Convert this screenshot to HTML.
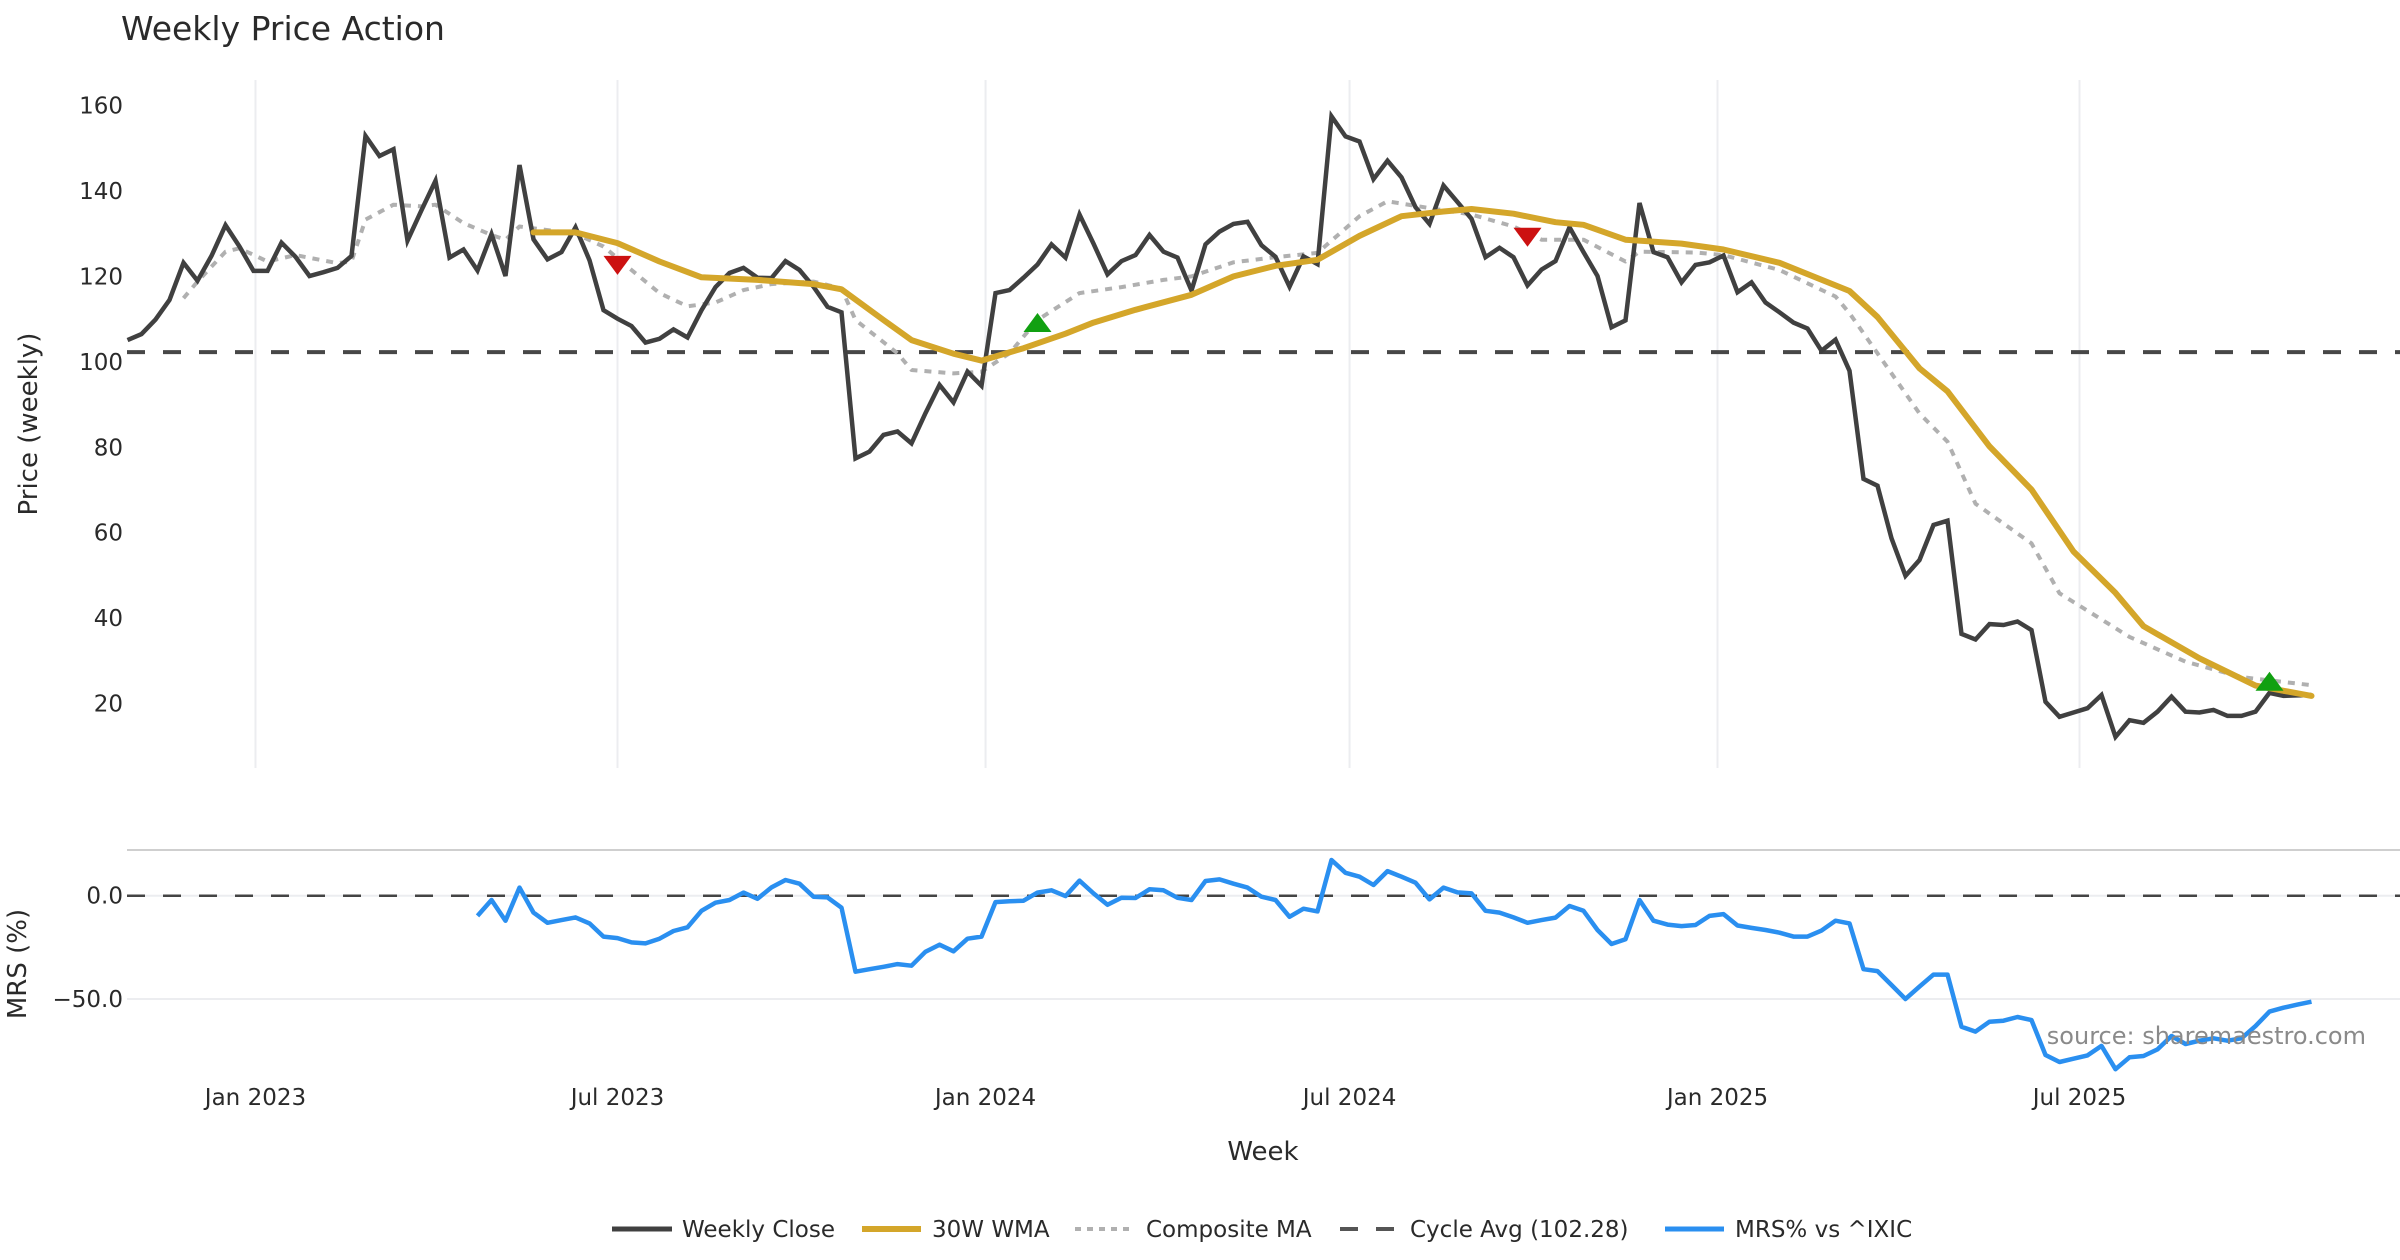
<!DOCTYPE html>
<html><head><meta charset="utf-8"><title>Weekly Price Action</title>
<style>
html,body{margin:0;padding:0;background:#fff;}
svg{display:block;font-family:"DejaVu Sans","Liberation Sans",sans-serif;}
</style></head>
<body>
<svg id="chart" xmlns="http://www.w3.org/2000/svg" width="2400" height="1260" viewBox="0 0 2400 1260">
<rect x="0" y="0" width="2400" height="1260" fill="#fff"/>
<text x="121" y="40" font-size="33" fill="#2a2a2a">Weekly Price Action</text>
<g id="grid"></g>
<g id="lines"></g>
<g id="axes"></g>
<text transform="translate(37,424) rotate(-90)" text-anchor="middle" font-size="26" fill="#2a2a2a">Price (weekly)</text>
<text transform="translate(26,964) rotate(-90)" text-anchor="middle" font-size="26" fill="#2a2a2a">MRS (%)</text>
<text x="1263" y="1160" text-anchor="middle" font-size="26" fill="#2a2a2a">Week</text>
<text x="2366" y="1044" text-anchor="end" font-size="24" fill="#8a8a8a">source: sharemaestro.com</text>
<g>
  <g>
    <line x1="612" y1="1229" x2="672" y2="1229" stroke="#404040" stroke-width="5"/>
    <text x="682" y="1237" font-size="23" fill="#2a2a2a">Weekly Close</text>
  </g>
  <g>
    <line x1="862" y1="1229" x2="921" y2="1229" stroke="#d4a62a" stroke-width="6"/>
    <text x="932" y="1237" font-size="23" fill="#2a2a2a">30W WMA</text>
  </g>
  <g>
    <line x1="1075" y1="1229" x2="1132" y2="1229" stroke="#b0b0b0" stroke-width="4" stroke-dasharray="6 6"/>
    <text x="1146" y="1237" font-size="23" fill="#2a2a2a">Composite MA</text>
  </g>
  <g>
    <line x1="1340" y1="1229" x2="1396" y2="1229" stroke="#555" stroke-width="4" stroke-dasharray="18 18"/>
    <text x="1410" y="1237" font-size="23" fill="#2a2a2a">Cycle Avg (102.28)</text>
  </g>
  <g>
    <line x1="1665" y1="1229" x2="1724" y2="1229" stroke="#2a8ff0" stroke-width="5"/>
    <text x="1735" y="1237" font-size="23" fill="#2a2a2a">MRS% vs ^IXIC</text>
  </g>
</g>
</svg>
<script>
// ---- data ----
const closeVals = [105.1,106.5,109.9,114.5,123.2,119.0,124.8,132.0,127.0,121.3,121.3,127.9,124.6,120.1,121.0,122.0,124.8,152.9,148.2,149.8,128.4,135.5,142.4,124.4,126.3,121.4,129.9,120.1,146.1,128.7,124.0,125.7,131.5,123.8,112.1,110.1,108.4,104.5,105.4,107.6,105.7,112.1,117.5,
120.8,122.0,119.7,119.6,123.6,121.5,117.6,112.9,111.6,77.4,79.0,82.9,83.7,80.9,88.0,94.6,90.5,97.7,94.4,116.1,116.8,119.7,122.8,127.5,124.4,134.5,127.7,120.5,123.6,125.0,129.7,125.8,124.4,116.7,127.5,130.5,132.3,132.8,127.3,124.6,117.6,
124.7,122.9,157.5,152.8,151.6,142.8,147.1,143.2,136.2,132.3,141.3,137.4,133.5,124.5,126.7,124.5,117.9,121.6,123.6,131.5,125.7,120.1,108.1,109.7,137.2,125.7,124.5,118.6,122.7,123.3,124.9,116.3,118.6,113.9,111.6,109.2,107.8,102.6,105.2,97.9,72.6,71.0,
58.7,49.9,53.6,61.8,62.8,36.3,35.0,38.6,38.4,39.2,37.2,20.4,16.9,17.9,18.9,22.0,12.2,16.1,15.5,18.1,21.6,18.1,17.9,18.5,17.1,17.1,18.1,22.5,21.8,21.9,22.0];
const wmaWeeks = [29,32,35,38,41,45,49,51,54,56,59,61,64,67,69,72,76,79,82,85,88,91,94,96,99,102,104,107,111,114,118,123,125,128,130,133,136,139,142,144,148,152,156];
const wmaVals  = [130.3,130.3,127.8,123.5,119.8,119.2,118.2,117.0,109.8,105.1,101.9,100.3,103.2,106.6,109.2,112.2,115.7,120.0,122.5,123.9,129.5,134.1,135.2,135.8,134.7,132.7,132.1,128.6,127.7,126.3,123.2,116.6,110.5,98.5,93.1,80.2,70.1,55.6,45.9,38.1,30.6,24.2,21.8];
const compWeeks = [4,5,7,8,10,12,15,16,17,19,21,22,24,26,27,28,32,34,36,38,40,42,44,46,49,51,52,55,56,59,61,63,65,68,71,74,76,79,82,85,88,90,93,96,99,101,104,107,108,112,114,118,122,123,125,128,130,132,136,138,143,147,151,156];
const compVals  = [114.9,118.8,125.8,126.6,123.5,125.0,123.1,123.5,133.3,136.8,136.4,136.8,132.5,129.7,128.6,131.7,130.0,127.0,121.5,116.1,113.0,113.9,116.8,118.2,118.8,117.2,109.8,102.0,98.1,97.3,97.7,102.0,109.8,116.1,117.5,119.2,120.0,123.3,124.5,125.5,134.1,137.6,136.0,134.5,131.7,128.6,128.6,123.5,125.8,125.6,125.0,121.5,115.3,111.4,102.0,87.9,81.3,66.8,57.5,45.8,35.6,29.8,26.2,24.3];
const mrsStart = 25;
const mrsVals = [-9.8,-2.1,-12.1,3.9,-8.2,-13.1,-11.8,-10.5,-13.4,-19.8,-20.5,-22.6,-23.1,-20.8,-17.1,-15.3,-7.3,-3.4,-2.1,1.5,-1.5,4.0,7.6,5.8,-0.5,-0.8,-5.8,-36.8,-35.6,-34.4,-33.1,-33.9,-27.1,-23.7,-26.9,-20.8,-19.8,-3.1,-2.7,-2.4,1.5,2.6,-0.2,7.3,1.1,-4.4,-1.0,-1.1,3.1,2.6,-1.0,-2.1,7.1,7.9,5.8,3.9,-0.5,-2.1,-10.2,-6.3,-7.6,17.3,11.1,9.2,5.2,11.9,
9.2,6.3,-1.8,3.9,1.6,1.1,-7.3,-8.2,-10.5,-13.1,-11.8,-10.6,-5.0,-7.3,-16.6,-23.4,-21.1,-2.1,-12.1,-14.0,-14.7,-14.2,-9.8,-8.9,-14.4,-15.6,-16.6,-17.9,-19.8,-19.8,-16.9,-12.1,-13.4,-35.6,-36.5,-43.2,-50.0,-44.0,-38.2,-38.2,-63.4,-65.8,-61.0,-60.5,-58.7,-60.2,-77.1,-80.5,-78.9,-77.3,-72.7,-84.0,-78.2,-77.6,-74.4,-67.9,-71.8,-70.2,-69.0,-70.2,-69.0,-63.1,-56.1,-54.2,-52.7,-51.3];
const cycleAvg = 102.28;
const sellWeeks = [35,100];
const sellPrices = [122.7,129.3];
const buyWeeks = [65,153];
const buyPrices = [109.1,25.1];
const priceTicks = [20,40,60,80,100,120,140,160];
const mrsTicks = [0,-50];
const mrsTickLabels = ["0.0","\u221250.0"];
const xTickWeeks = [9.14,35.0,61.29,87.29,113.57,139.43];
const xTickLabels = ["Jan 2023","Jul 2023","Jan 2024","Jul 2024","Jan 2025","Jul 2025"];

// ---- scales ----
const X0 = 127.5, STEP = 14.0, PLOT_R = 2400;
function xs(w){ return X0 + w*STEP; }
function yp(p){ return 105.6 + (160-p)*4.271; }
function ym(v){ return 895.7 - v*2.066; }

const NS = "http://www.w3.org/2000/svg";
function mk(tag, attrs, parent){
  const e = document.createElementNS(NS, tag);
  for (const k in attrs) e.setAttribute(k, attrs[k]);
  parent.appendChild(e);
  return e;
}
const gridG = document.getElementById('grid');
const linesG = document.getElementById('lines');
const axesG = document.getElementById('axes');

xTickWeeks.forEach((w,i)=>{
  const gl = mk('line',{x1:xs(w),x2:xs(w),y1:80,y2:768,stroke:'#ecedf0','stroke-width':2},gridG);
  
  
  const t = mk('text',{x:xs(w),y:1105,'text-anchor':'middle','font-size':23,fill:'#2a2a2a'},axesG);
  t.textContent = xTickLabels[i];
  
  
});
priceTicks.forEach(p=>{
  const t = mk('text',{x:123,y:yp(p)+8,'text-anchor':'end','font-size':23,fill:'#2a2a2a'},axesG);
  t.textContent = String(p);
  
  
});
const mrsBorder = mk('line',{x1:127,x2:PLOT_R,y1:850,y2:850,stroke:'#cfcfcf','stroke-width':2},gridG);


mrsTicks.forEach((v,i)=>{
  const gl = mk('line',{x1:127,x2:PLOT_R,y1:ym(v),y2:ym(v),stroke:'#ecedf0','stroke-width':2},gridG);
  
  
  const t = mk('text',{x:123,y:ym(v)+8,'text-anchor':'end','font-size':23,fill:'#2a2a2a'},axesG);
  t.textContent = mrsTickLabels[i];
  
  
});
const zl = mk('line',{x1:127,x2:PLOT_R,y1:ym(0),y2:ym(0),stroke:'#444','stroke-width':2.5,'stroke-dasharray':'18 18'},linesG);



const ca = mk('line',{x1:127,x2:PLOT_R,y1:yp(cycleAvg),y2:yp(cycleAvg),stroke:'#474747','stroke-width':4,'stroke-dasharray':'18 18'},linesG);



function pts(ws, vs, yf){ return vs.map((v,i)=>xs(ws[i]).toFixed(1)+','+yf(v).toFixed(1)).join(' '); }
const closeWeeks = closeVals.map((v,i)=>i);
const mrsWeeks = mrsVals.map((v,i)=>i+mrsStart);

const comp = mk('polyline',{points:pts(compWeeks,compVals,yp),fill:'none',stroke:'#b0b0b0','stroke-width':4,'stroke-dasharray':'7 7','stroke-linejoin':'round'},linesG);


const cl = mk('polyline',{points:pts(closeWeeks,closeVals,yp),fill:'none',stroke:'#404040','stroke-width':4.5,'stroke-linejoin':'miter'},linesG);


const wl = mk('polyline',{points:pts(wmaWeeks,wmaVals,yp),fill:'none',stroke:'#d4a62a','stroke-width':6,'stroke-linejoin':'round','stroke-linecap':'round'},linesG);


const ml = mk('polyline',{points:pts(mrsWeeks,mrsVals,ym),fill:'none',stroke:'#2a8ff0','stroke-width':4.5,'stroke-linejoin':'round'},linesG);



sellWeeks.forEach((w,i)=>{
  const x = xs(w), y = yp(sellPrices[i]);
  const m = mk('polygon',{points:`${x-14},${y-9} ${x+14},${y-9} ${x},${y+10}`,fill:'#cc1111'},linesG);
  
  
});
buyWeeks.forEach((w,i)=>{
  const x = xs(w), y = yp(buyPrices[i]);
  const m = mk('polygon',{points:`${x-14},${y+9} ${x+14},${y+9} ${x},${y-10}`,fill:'#11a011'},linesG);
  
  
});
</script>
</body></html>
